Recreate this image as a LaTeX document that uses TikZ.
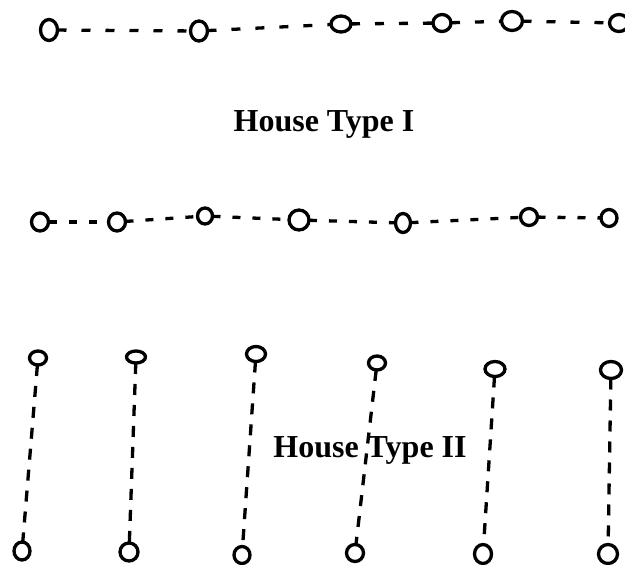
\documentclass[tikz,border=0pt]{standalone}
\usepackage{fontspec}
\setmainfont{Liberation Serif}
\usetikzlibrary{shapes.geometric}
\tikzset{
  hc/.style 2 args={ellipse, draw, line width=3.3pt, inner sep=0pt, outer sep=0pt,
    minimum width=#1pt, minimum height=#2pt},
  hlink/.style={line width=3.3pt, dash pattern=on 9pt off 15pt},
  mlink/.style={line width=3.3pt, dash pattern=on 8pt off 12pt},
  vlink/.style={line width=3.3pt, dash pattern=on 11pt off 10pt},
  title/.style={font=\fontsize{32}{32}\selectfont\bfseries, inner sep=0pt}
}
\begin{document}
\begin{tikzpicture}[x=1pt, y=-1pt]
\useasboundingbox (0,0) rectangle (625,565);
% top row
\node[hc={17}{21}] (t1) at (49,30) {};
\node[hc={17}{20}] (t2) at (199,31) {};
\node[hc={20}{16}] (t3) at (341,24) {};
\node[hc={18}{17}] (t4) at (442,23) {};
\node[hc={21}{19}] (t5) at (512,21) {};
\node[hc={19}{17}] (t6) at (619,23) {};
\draw[hlink] (t1) -- (t2);
\draw[hlink] (t2) -- (t3);
\draw[hlink] (t3) -- (t4);
\draw[hlink] (t4) -- (t5);
\draw[hlink] (t5) -- (t6);
% title I
\node[title] (lab1) at (324,124) {House Type I};
% middle row
\node[hc={17}{18}] (m1) at (40,222) {};
\node[hc={17}{18}] (m2) at (117,222) {};
\node[hc={15}{16}] (m3) at (205,216) {};
\node[hc={20}{20}] (m4) at (299,220) {};
\node[hc={15}{19}] (m5) at (403,223) {};
\node[hc={17}{17}] (m6) at (529,217) {};
\node[hc={16}{17}] (m7) at (609,218) {};
\draw[mlink] (m1) -- (m2);
\draw[mlink] (m2) -- (m3);
\draw[mlink] (m3) -- (m4);
\draw[mlink] (m4) -- (m5);
\draw[mlink] (m5) -- (m6);
\draw[mlink] (m6) -- (m7);
% bottom columns
\node[hc={17}{14}] (a1) at (38,358) {};
\node[hc={19}{12}] (a2) at (136,357) {};
\node[hc={19}{15}] (a3) at (256,354) {};
\node[hc={17}{14}] (a4) at (377,363) {};
\node[hc={20}{15}] (a5) at (495,369) {};
\node[hc={21}{17}] (a6) at (611,370) {};
\node[hc={16}{18}] (b1) at (22,551) {};
\node[hc={18}{18}] (b2) at (129,552) {};
\node[hc={16}{17}] (b3) at (242,555) {};
\node[hc={17}{17}] (b4) at (355,553) {};
\node[hc={17}{19}] (b5) at (483,554) {};
\node[hc={19}{19}] (b6) at (608,554) {};
\draw[vlink] (a1) -- (b1);
\draw[vlink] (a2) -- (b2);
\draw[vlink] (a3) -- (b3);
\draw[vlink] (a4) -- (b4);
\draw[vlink] (a5) -- (b5);
\draw[vlink] (a6) -- (b6);
% title II
\node[title] (lab2) at (370,450) {House Type II};
\end{tikzpicture}
\end{document}
